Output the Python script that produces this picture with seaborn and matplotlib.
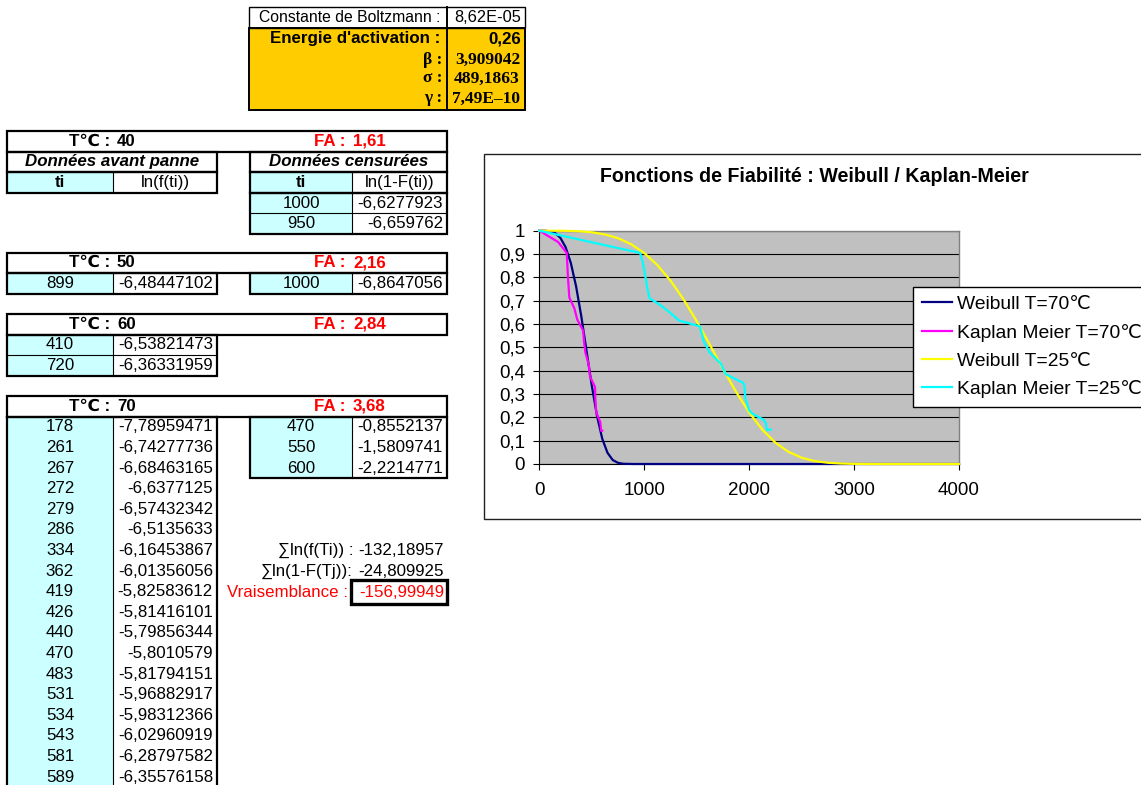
import matplotlib
matplotlib.use("Agg")
import matplotlib.pyplot as plt
import matplotlib.patches as mpatches
from matplotlib.ticker import FuncFormatter, MultipleLocator
import seaborn as sns
import pandas as pd

# ---- spreadsheet values ----
boltz_labels = ["Constante de Boltzmann :", "Energie d'activation :", "β :", "σ :", "γ :"]
boltz_values = ["8,62E-05", "0,26", "3,909042", "489,1863", "7,49E–10"]

temps = [40, 50, 60, 70]
fa_values = ["1,61", "2,16", "2,84", "3,68"]

t40_cens = [1000, 950]
ln40_cens = [-6.6277923, -6.659762]
t50_fail = [899]
ln50_fail = [-6.48447102]
t50_cens = [1000]
ln50_cens = [-6.8647056]
t60_fail = [410, 720]
ln60_fail = [-6.53821473, -6.36331959]
t70_fail = [178, 261, 267, 272, 279, 286, 334, 362, 419, 426, 440, 470, 483,
            531, 534, 543, 581, 589]
ln70_fail = [-7.78959471, -6.74277736, -6.68463165, -6.6377125, -6.57432342,
             -6.5135633, -6.16453867, -6.01356056, -5.82583612, -5.81416101,
             -5.79856344, -5.8010579, -5.81794151, -5.96882917, -5.98312366,
             -6.02960919, -6.28797582, -6.35576158]
t70_cens = [470, 550, 600]
ln70_cens = [-0.8552137, -1.5809741, -2.2214771]

sum_labels = ["∑ln(f(Ti)) :", "∑ln(1-F(Tj)):"]
sum_values = ["-132,18957", "-24,809925"]
vrais_value = "-156,99949"

# ---- chart values ----
w70_t = [0, 50, 100, 150, 200, 250, 300, 350, 400, 450, 500, 550, 600, 650,
         700, 750, 800, 900, 1000, 2000, 3000, 4000]
w70_r = [1.0, 0.9999, 0.998, 0.990, 0.970, 0.930, 0.8625, 0.763, 0.634, 0.486,
         0.3365, 0.206, 0.108, 0.048, 0.017, 0.005, 0.001, 0.0, 0.0, 0.0, 0.0, 0.0]

km70_t = [0, 178, 261, 267, 272, 279, 286, 334, 362, 419, 426, 440, 470, 483,
          531, 534, 543, 550, 581, 589, 600]
km70_r = [1.0, 0.952, 0.905, 0.857, 0.810, 0.762, 0.714, 0.667, 0.619, 0.571,
          0.524, 0.476, 0.429, 0.375, 0.33, 0.28, 0.22, 0.214, 0.18, 0.143, 0.143]

w25_t = [0, 125, 250, 375, 500, 625, 750, 875, 1000, 1125, 1250, 1375, 1500,
         1625, 1750, 1875, 2000, 2125, 2250, 2375, 2500, 2625, 2750, 2875, 3000,
         3250, 3500, 4000]
w25_r = [1.0, 1.0, 0.9996, 0.9978, 0.9933, 0.9841, 0.9679, 0.9421, 0.9044,
         0.8528, 0.7863, 0.7055, 0.6124, 0.5115, 0.4083, 0.3094, 0.2210, 0.1476,
         0.0914, 0.0521, 0.0270, 0.0126, 0.0053, 0.0020, 0.0006, 0.0, 0.0, 0.0]

km25_t = [0, 655, 960, 983, 1001, 1027, 1052, 1164, 1229, 1332, 1530, 1542,
          1568, 1610, 1619, 1730, 1777, 1942, 1954, 1965, 1998, 2024, 2045,
          2138, 2160, 2168, 2208]
km25_r = [1.0, 0.935, 0.905, 0.87, 0.83, 0.76, 0.71, 0.678, 0.655, 0.615, 0.59,
          0.57, 0.525, 0.49, 0.48, 0.43, 0.385, 0.348, 0.338, 0.28, 0.232,
          0.218, 0.212, 0.19, 0.175, 0.145, 0.148]

series = [
    ("Weibull T=70℃", w70_t, w70_r, "#000080"),
    ("Kaplan Meier T=70℃", km70_t, km70_r, "#FF00FF"),
    ("Weibull T=25℃", w25_t, w25_r, "#FFFF00"),
    ("Kaplan Meier T=25℃", km25_t, km25_r, "#00FFFF"),
]

plt.rcParams['font.family'] = ['Liberation Sans', 'DejaVu Sans']
SERIF = ['Liberation Serif', 'DejaVu Serif']

CYAN = "#CCFFFF"
ORANGE = "#FFCC00"
RED = "#FF0000"
FS = 12.2
RH = 20.6

fig = plt.figure(figsize=(11.41, 7.85), dpi=100)
bg = fig.add_axes([0, 0, 1, 1])
bg.set_xlim(0, 1141)
bg.set_ylim(785, 0)
bg.axis('off')

# columns of the sheet (pixels)
A = (7, 113)
B = (113, 217)
D = (250, 352)
E = (352, 447)


def fill(x0, x1, y0, y1, color):
    bg.add_patch(mpatches.Rectangle((x0, y0), x1 - x0, y1 - y0, facecolor=color,
                                    edgecolor='none', zorder=1))


def box(x0, x1, y0, y1, lw=1.6):
    bg.add_patch(mpatches.Rectangle((x0, y0), x1 - x0, y1 - y0, facecolor='none',
                                    edgecolor='black', lw=lw, zorder=3))


def hline(x0, x1, y, lw=0.8):
    bg.plot([x0, x1], [y, y], color='black', lw=lw, zorder=2)


def vline(x, y0, y1, lw=0.8):
    bg.plot([x, x], [y0, y1], color='black', lw=lw, zorder=2)


def txt(x, y, s, ha='center', **kw):
    kw.setdefault('fontsize', FS)
    bg.text(x, y, s, ha=ha, va='center', zorder=4, **kw)


def fmt(v):
    return str(v).replace('.', ',')


def header(top, temp, fa):
    box(A[0], E[1], top, top + RH)
    txt(110, top + RH / 2, "T℃ :", ha='right', fontweight='bold')
    txt(117, top + RH / 2, str(temp), ha='left', fontweight='bold')
    txt(345, top + RH / 2, "FA :", ha='right', fontweight='bold', color=RED)
    txt(353, top + RH / 2, fa, ha='left', fontweight='bold', color=RED)


def block(c1, c2, top, tvals, lvals, sep=True, close=True):
    n = len(tvals)
    bottom = top + n * RH
    fill(c1[0], c1[1], top, bottom, CYAN)
    for i, (t, l) in enumerate(zip(tvals, lvals)):
        yc = top + (i + 0.5) * RH
        txt((c1[0] + c1[1]) / 2, yc, str(t))
        txt(c2[1] - 4, yc, fmt(l), ha='right')
        if sep and i > 0:
            hline(c1[0], c2[1], top + i * RH)
    vline(c1[1], top, bottom)
    if close:
        box(c1[0], c2[1], top, bottom)
    else:
        vline(c1[0], top, 800, lw=1.6)
        vline(c2[1], top, 800, lw=1.6)
        hline(c1[0], c2[1], top, lw=1.6)


# ---- Boltzmann / parameters table ----
fill(249, 525, 28, 110, ORANGE)
box(249, 525, 7, 28, lw=1.0)
box(249, 525, 28, 110, lw=1.4)
vline(447, 7, 110, lw=1.4)
txt(440, 17.5, boltz_labels[0], ha='right', fontsize=11.3)
txt(521, 17.5, boltz_values[0], ha='right', fontsize=11.8)
txt(440, 39, boltz_labels[1], ha='right', fontweight='bold')
txt(521, 39, boltz_values[1], ha='right', fontweight='bold')
for i, yc in enumerate([59.5, 78.5, 98.5]):
    txt(442, yc, boltz_labels[2 + i], ha='right', fontweight='bold', family=SERIF,
        fontsize=12.5)
    txt(520, yc, boltz_values[2 + i], ha='right', fontweight='bold', family=SERIF,
        fontsize=12.5)

# ---- T = 40 ----
top = 131
header(top, temps[0], fa_values[0])
r2 = top + RH
box(A[0], B[1], r2, r2 + RH)
box(D[0], E[1], r2, r2 + RH)
txt((A[0] + B[1]) / 2, r2 + RH / 2, "Données avant panne", fontweight='bold',
    fontstyle='italic')
txt((D[0] + E[1]) / 2, r2 + RH / 2, "Données censurées", fontweight='bold',
    fontstyle='italic')
r3 = r2 + RH
fill(A[0], A[1], r3, r3 + RH, CYAN)
fill(D[0], D[1], r3, r3 + RH, CYAN)
box(A[0], B[1], r3, r3 + RH)
box(D[0], E[1], r3, r3 + RH)
vline(A[1], r3, r3 + RH)
vline(D[1], r3, r3 + RH)
txt(60, r3 + RH / 2, "ti", fontweight='bold')
txt(165, r3 + RH / 2, "ln(f(ti))")
txt(301, r3 + RH / 2, "ti", fontweight='bold')
txt(399.5, r3 + RH / 2, "ln(1-F(ti))")
block(D, E, r3 + RH, t40_cens, ln40_cens)

# ---- T = 50 ----
top = 252.5
header(top, temps[1], fa_values[1])
block(A, B, top + RH, t50_fail, ln50_fail)
block(D, E, top + RH, t50_cens, ln50_cens)

# ---- T = 60 ----
top = 314
header(top, temps[2], fa_values[2])
block(A, B, top + RH, t60_fail, ln60_fail)

# ---- T = 70 ----
top = 396
header(top, temps[3], fa_values[3])
block(A, B, top + RH, t70_fail, ln70_fail, sep=False, close=False)
block(D, E, top + RH, t70_cens, ln70_cens, sep=False)

# sums and likelihood
for i, (lab, val) in enumerate(zip(sum_labels, sum_values)):
    yc = top + RH + (6 + i + 0.5) * RH
    txt(353, yc, lab, ha='right')
    txt(358, yc, val, ha='left')
yc = top + RH + 8.5 * RH
txt(348, yc + 0.5, "Vraisemblance :", ha='right', color=RED)
box(350.5, 446.5, 580, 604, lw=2.4)
txt(359, yc + 0.5, vrais_value, ha='left', color=RED)

# ---- chart area frame ----
bg.add_patch(mpatches.Rectangle((483.5, 153.5), 700, 365.5, facecolor='white',
                                edgecolor='#202020', lw=1.0, zorder=1))
txt(814, 177, "Fonctions de Fiabilité : Weibull / Kaplan-Meier", fontsize=14.1,
    fontweight='bold')

ax = fig.add_axes([539.3 / 1141, 1 - 464 / 785, 419.7 / 1141, 233.3 / 785])
ax.set_facecolor('#C0C0C0')
for name, t, r, c in series:
    df = pd.DataFrame({'t': t, 'R': r})
    sns.lineplot(data=df, x='t', y='R', ax=ax, color=c, lw=1.6, sort=False,
                 estimator=None, label=name, clip_on=False, zorder=3)

ax.set_xlim(0, 4000)
ax.set_ylim(0, 1)
ax.xaxis.set_major_locator(MultipleLocator(1000))
ax.yaxis.set_major_locator(MultipleLocator(0.1))
ax.xaxis.set_major_formatter(FuncFormatter(lambda v, p: '%d' % v))
ax.yaxis.set_major_formatter(
    FuncFormatter(lambda v, p: ('%g' % round(v, 1)).replace('.', ',')))
ax.set_xlabel('')
ax.set_ylabel('')
ax.set_axisbelow(True)
ax.yaxis.grid(True, color='black', lw=0.8)
ax.xaxis.grid(False)
for s in ['top', 'right']:
    ax.spines[s].set_color('#808080')
    ax.spines[s].set_linewidth(1.0)
for s in ['left', 'bottom']:
    ax.spines[s].set_color('black')
    ax.spines[s].set_linewidth(0.8)
ax.tick_params(axis='y', direction='out', length=4.3, width=0.8, pad=6,
               labelsize=13.5)
ax.tick_params(axis='x', direction='out', length=4.3, width=0.8, pad=9,
               labelsize=13.5)

leg = ax.legend(loc='upper left', bbox_to_anchor=(913.3 / 1141, 1 - 287 / 785),
                bbox_transform=fig.transFigure, borderaxespad=0, fontsize=13.9,
                frameon=True, fancybox=False, framealpha=1, edgecolor='black',
                handlelength=1.56, handletextpad=0.26, borderpad=0.45,
                labelspacing=0.54)
leg.get_frame().set_linewidth(1.0)
for h in leg.get_lines():
    h.set_linewidth(1.6)

fig.savefig("out.png", dpi=100)
